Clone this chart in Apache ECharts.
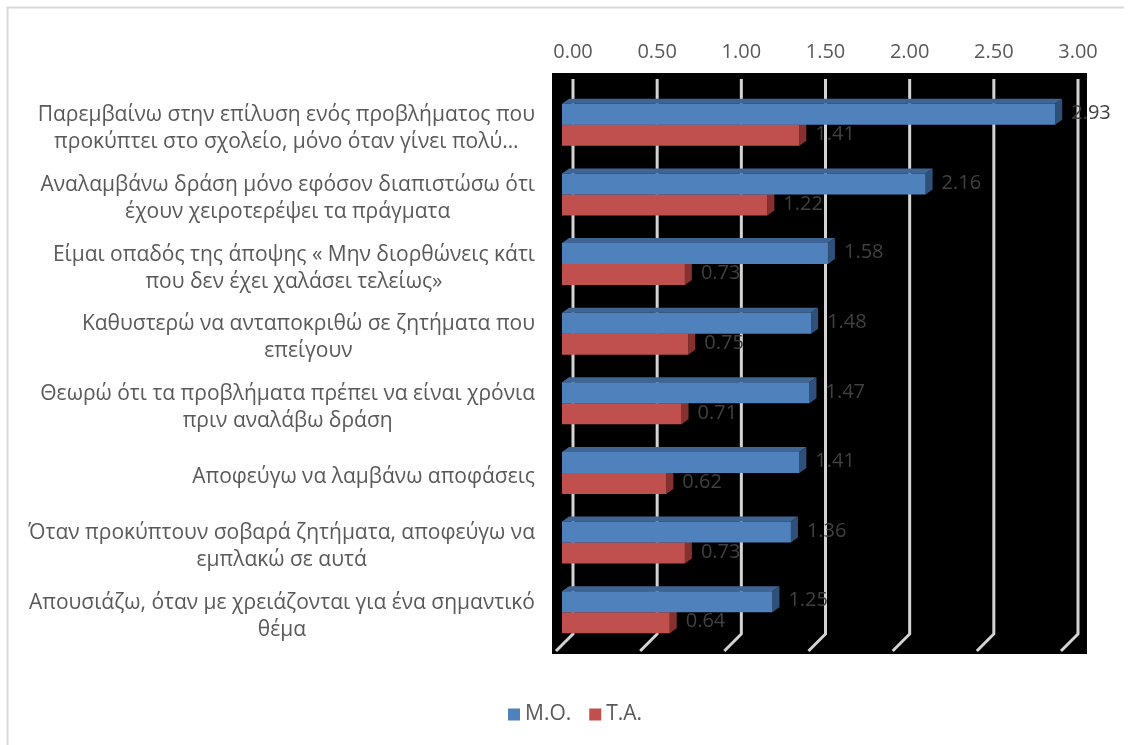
<!DOCTYPE html>
<html>
<head>
<meta charset="utf-8">
<script src="https://cdn.jsdelivr.net/npm/echarts@6/dist/echarts.min.js"></script>
<style>
html,body{margin:0;padding:0;background:#fff;}
#chart{width:1132px;height:745px;}
</style>
</head>
<body>
<div id="chart"></div>
<script>
const categories = [
  "Παρεμβαίνω στην επίλυση ενός προβλήματος που\nπροκύπτει στο σχολείο, μόνο όταν γίνει πολύ…",
  "Αναλαμβάνω δράση μόνο εφόσον διαπιστώσω ότι\nέχουν χειροτερέψει τα πράγματα",
  "Είμαι οπαδός της άποψης « Μην διορθώνεις κάτι\nπου δεν έχει χαλάσει τελείως»",
  "Καθυστερώ να ανταποκριθώ σε ζητήματα που\nεπείγουν",
  "Θεωρώ ότι τα προβλήματα πρέπει να είναι χρόνια\nπριν αναλάβω δράση",
  "Αποφεύγω να λαμβάνω αποφάσεις",
  "Όταν προκύπτουν σοβαρά ζητήματα, αποφεύγω να\nεμπλακώ σε αυτά",
  "Απουσιάζω, όταν με χρειάζονται για ένα σημαντικό\nθέμα"
];
const seriesNames = ["Μ.Ο.", "Τ.Α."];
const moValues = [2.93, 2.16, 1.58, 1.48, 1.47, 1.41, 1.36, 1.25];
const taValues = [1.41, 1.22, 0.73, 0.75, 0.71, 0.62, 0.73, 0.64];
const tickValues = [0, 0.5, 1, 1.5, 2, 2.5, 3];

const FONT = "'Open Sans', sans-serif";
const colors = {
  blue: {front: '#4F81BD', top: '#3E6594', side: '#2F5079'},
  red:  {front: '#C0504D', top: '#973F3D', side: '#86312F'}
};
const BAR_H = 21, DX = 7, DY = 5;

function barRenderer(col, upper) {
  return function (params, api) {
    const v = api.value(0), c = api.value(1);
    const p0 = api.coord([0, c]);
    const p1 = api.coord([v, c]);
    const x0 = p0[0], x1 = p1[0];
    const y0 = upper ? p0[1] - BAR_H : p0[1];
    const y1 = y0 + BAR_H;
    return {
      type: 'group',
      children: [
        {type: 'polygon', shape: {points: [[x0, y0], [x0 + DX, y0 - DY], [x1 + DX, y0 - DY], [x1, y0]]}, style: {fill: col.top}},
        {type: 'polygon', shape: {points: [[x1, y0], [x1 + DX, y0 - DY], [x1 + DX, y1 - DY], [x1, y1]]}, style: {fill: col.side}},
        {type: 'rect', shape: {x: x0, y: y0, width: x1 - x0, height: BAR_H}, style: {fill: col.front}},
        {type: 'text', z2: 10, style: {text: v.toFixed(2), x: x1 + DX + 9, y: (y0 + y1) / 2 - 1, verticalAlign: 'middle', align: 'left', fill: '#404040', font: "20px " + FONT}}
      ]
    };
  };
}

const chart = echarts.init(document.getElementById('chart'), null, {renderer: 'canvas'});
chart.setOption({
  animation: false,
  backgroundColor: '#fff',
  graphic: [
    {type: 'rect', z: 0, shape: {x: 552, y: 73, width: 535, height: 581}, style: {fill: '#000'}},
    {type: 'polyline', z: 0, shape: {points: [[7.5, 745], [7.5, 7.5], [1124, 7.5]]}, style: {stroke: '#d9d9d9', lineWidth: 2, fill: null}}
  ],
  legend: {
    data: seriesNames,
    left: 503, top: 699,
    icon: 'rect', itemWidth: 12, itemHeight: 12, itemGap: 18,
    textStyle: {fontSize: 21, color: '#595959', fontFamily: FONT}
  },
  grid: [
    {left: 562, width: 505, top: 90, height: 557, containLabel: false},
    {left: 573, width: 505, top: 79, height: 555, containLabel: false}
  ],
  xAxis: [
    {gridIndex: 0, type: 'value', min: 0, max: 3, interval: 0.5, show: false},
    {gridIndex: 1, type: 'value', min: 0, max: 3, interval: 0.5, position: 'top',
      axisLine: {show: false}, axisTick: {show: false}, splitLine: {show: false},
      axisLabel: {margin: 17, fontSize: 20, color: '#595959', fontFamily: FONT, formatter: v => v.toFixed(2)}}
  ],
  yAxis: [
    {gridIndex: 0, type: 'category', inverse: true, data: categories,
      axisLine: {show: false}, axisTick: {show: false}, splitLine: {show: false},
      axisLabel: {
        margin: 27, align: 'right', interval: 0, padding: [8, 0, 0, 0],
        formatter: v => v.split('\n').map(l => '{c|' + l + '}').join('\n'),
        rich: {c: {align: 'center', fontSize: 21, lineHeight: 27, color: '#595959', fontFamily: FONT}}
      }},
    {gridIndex: 1, type: 'value', min: 0, max: 1, show: false}
  ],
  series: [
    {
      type: 'custom', name: 'grid', xAxisIndex: 1, yAxisIndex: 1, z: 1, silent: true,
      data: tickValues.map(v => [v, 0]),
      renderItem: function (params, api) {
        const cs = params.coordSys;
        const x = api.coord([api.value(0), 0])[0];
        const yb = cs.y + cs.height;
        return {type: 'polyline', shape: {points: [[x, cs.y], [x, yb], [x - 17, yb + 17]]},
          style: {stroke: '#d4d4d4', lineWidth: 3, fill: null}};
      }
    },
    {
      type: 'custom', name: seriesNames[1], xAxisIndex: 0, yAxisIndex: 0, z: 3,
      itemStyle: {color: colors.red.front},
      encode: {x: 0, y: 1},
      data: taValues.map((v, i) => [v, i]),
      renderItem: barRenderer(colors.red, false)
    },
    {
      type: 'custom', name: seriesNames[0], xAxisIndex: 0, yAxisIndex: 0, z: 4,
      itemStyle: {color: colors.blue.front},
      encode: {x: 0, y: 1},
      data: moValues.map((v, i) => [v, i]),
      renderItem: barRenderer(colors.blue, true)
    }
  ]
});
</script>
</body>
</html>
